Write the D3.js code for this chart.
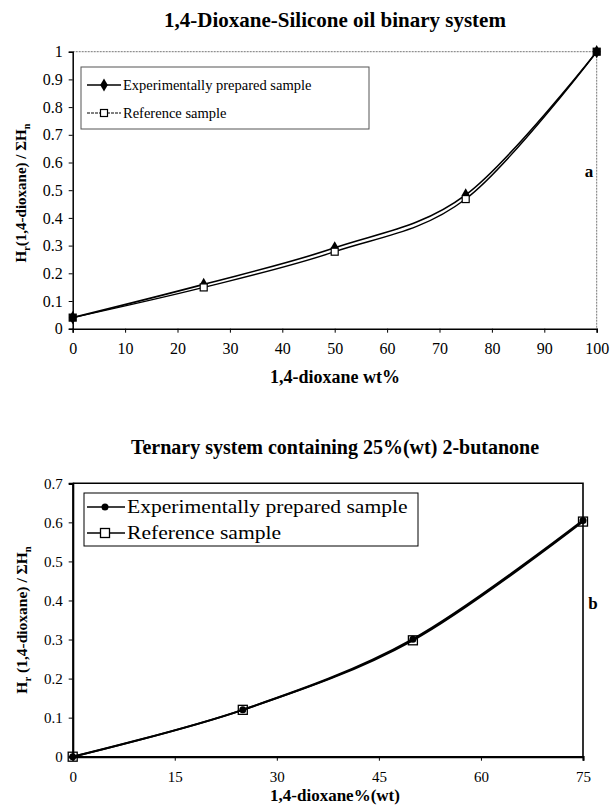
<!DOCTYPE html>
<html><head><meta charset="utf-8">
<script src="https://cdn.jsdelivr.net/npm/d3@7"></script>
<style>body{margin:0;background:#fff}svg{display:block}</style>
</head><body><svg id="c" width="612" height="806"></svg>
<script>
// Chart a data
const xA = [0, 25, 50, 75, 100];
const expA = [0.04, 0.16, 0.292, 0.483, 1.0];
const refA = [0.04, 0.149, 0.278, 0.468, 1.0];
const xTicksA = [0,10,20,30,40,50,60,70,80,90,100];
const yTicksA = [0,0.1,0.2,0.3,0.4,0.5,0.6,0.7,0.8,0.9,1];
// Chart b data
const xB = [0, 25, 50, 75];
const expB = [0, 0.12, 0.301, 0.605];
const refB = [0, 0.12, 0.298, 0.602];
const xTicksB = [0,15,30,45,60,75];
const yTicksB = [0,0.1,0.2,0.3,0.4,0.5,0.6,0.7];
const legendLabels = ["Experimentally prepared sample", "Reference sample"];

const svg = d3.select("#c");
const curve = d3.curveCardinal.tension(0);
const SERIF = "Liberation Serif";

function txt(g, x, y, s, size, bold, anchor){
  return g.append("text").attr("x",x).attr("y",y).attr("text-anchor",anchor||"start")
    .attr("font-family",SERIF).attr("font-size",size).attr("font-weight",bold?"bold":"normal").attr("fill","#000").text(s);
}

function yTitle(g, x, y, space, size){
  const t = g.append("text").attr("transform",`translate(${x},${y}) rotate(-90)`)
    .attr("text-anchor","middle").attr("font-family",SERIF).attr("font-weight","bold").attr("font-size",size);
  t.append("tspan").text("H");
  t.append("tspan").attr("dy",4).attr("font-size",size*0.68).text("r");
  t.append("tspan").attr("dy",-4).text((space?" ":"")+"(1,4-dioxane) / ΣH");
  t.append("tspan").attr("dy",4).attr("font-size",size*0.68).text("n");
}

function styleAxis(a, w, size){
  a.attr("font-family",SERIF).attr("font-size",size);
  a.select(".domain").attr("stroke","#000").attr("stroke-width",w);
  a.selectAll(".tick line").attr("stroke","#000");
  a.selectAll("text").attr("font-family",SERIF).attr("font-size",size).attr("fill","#000");
}

// ---------- Chart a ----------
{
  const x = d3.scaleLinear().domain([0,100]).range([72.7,596.7]);
  const y = d3.scaleLinear().domain([0,1]).range([328.7,51.7]);
  const g = svg.append("g");
  txt(g,335,27,"1,4-Dioxane-Silicone oil binary system",21,true,"middle");
  g.append("path").attr("d",`M${x(0)},${y(1)}H${x(100)}V${y(0)}`)
    .attr("fill","none").attr("stroke","#777").attr("stroke-width",1).attr("stroke-dasharray","2,1");
  const xa = g.append("g").attr("transform",`translate(0,${y(0)})`)
    .call(d3.axisBottom(x).tickValues(xTicksA).tickSize(4).tickFormat(d3.format("d")));
  const ya = g.append("g").attr("transform",`translate(${x(0)},0)`)
    .call(d3.axisLeft(y).tickValues(yTicksA).tickSize(4).tickFormat(d=>d));
  styleAxis(xa,1.5,16); styleAxis(ya,1.5,16);
  xa.selectAll("text").attr("dy","1.15em");
  ya.selectAll("text").attr("dx","-3");
  txt(g,335,383,"1,4-dioxane wt%",18,true,"middle");
  yTitle(g, 26, 193, false, 15);
  txt(g,589,177,"a",17,true,"middle");
  const line = d3.line().x(d=>x(d[0])).y(d=>y(d[1])).curve(curve);
  g.append("path").datum(xA.map((v,i)=>[v,refA[i]])).attr("d",line)
    .attr("fill","none").attr("stroke","#000").attr("stroke-width",1.4);
  g.append("path").datum(xA.map((v,i)=>[v,expA[i]])).attr("d",line)
    .attr("fill","none").attr("stroke","#000").attr("stroke-width",1.6);
  const dia = d3.symbol().type(d3.symbolDiamond).size(50);
  g.selectAll(".dA").data(xA.map((v,i)=>[v,expA[i]])).join("path")
    .attr("transform",d=>`translate(${x(d[0])},${y(d[1])})`).attr("d",dia).attr("fill","#000");
  g.selectAll(".sA").data(xA.map((v,i)=>[v,refA[i]])).join("rect")
    .attr("x",d=>x(d[0])-3.5).attr("y",d=>y(d[1])-3.5).attr("width",7).attr("height",7)
    .attr("fill",(d,i)=>(i===0||i===4)?"#000":"#fff").attr("stroke","#000").attr("stroke-width",1.2);
  // legend
  g.append("rect").attr("x",81).attr("y",67).attr("width",288).attr("height",62)
    .attr("fill","#fff").attr("stroke","#555").attr("stroke-width",1);
  const ly=[85,113];
  g.append("line").attr("x1",87).attr("x2",121).attr("y1",ly[0]).attr("y2",ly[0]).attr("stroke","#000").attr("stroke-width",1.6);
  g.append("path").attr("transform",`translate(104,${ly[0]})`).attr("d",dia).attr("fill","#000");
  g.append("line").attr("x1",87).attr("x2",121).attr("y1",ly[1]).attr("y2",ly[1]).attr("stroke","#000").attr("stroke-width",1).attr("stroke-dasharray","3,1");
  g.append("rect").attr("x",100.5).attr("y",ly[1]-3.5).attr("width",7).attr("height",7).attr("fill","#fff").attr("stroke","#000").attr("stroke-width",1.2);
  legendLabels.forEach((t,i)=>txt(g,123,ly[i]+5,t,14.5,false));
}

// ---------- Chart b ----------
{
  const x = d3.scaleLinear().domain([0,75]).range([72.7,583]);
  const y = d3.scaleLinear().domain([0,0.7]).range([756.7,483.3]);
  const g = svg.append("g");
  txt(g,335,454,"Ternary system containing 25%(wt) 2-butanone",20,true,"middle");
  g.append("path").attr("d",`M${x(0)},${y(0.7)}H${x(75)}V${y(0)}`)
    .attr("fill","none").attr("stroke","#000").attr("stroke-width",1.6);
  const xa = g.append("g").attr("transform",`translate(0,${y(0)})`)
    .call(d3.axisBottom(x).tickValues(xTicksB).tickSize(4).tickFormat(d3.format("d")));
  const ya = g.append("g").attr("transform",`translate(${x(0)},0)`)
    .call(d3.axisLeft(y).tickValues(yTicksB).tickSize(4).tickFormat(d=>d));
  styleAxis(xa,2.2,15); styleAxis(ya,2.2,15);
  xa.selectAll("text").attr("dy","1.2em");
  ya.selectAll("text").attr("dx","-3");
  txt(g,335,801,"1,4-dioxane%(wt)",17,true,"middle");
  yTitle(g, 27, 620, true, 15.5);
  txt(g,593,609,"b",17,true,"middle");
  const line = d3.line().x(d=>x(d[0])).y(d=>y(d[1])).curve(curve);
  g.append("path").datum(xB.map((v,i)=>[v,refB[i]])).attr("d",line)
    .attr("fill","none").attr("stroke","#000").attr("stroke-width",2);
  g.append("path").datum(xB.map((v,i)=>[v,expB[i]])).attr("d",line)
    .attr("fill","none").attr("stroke","#000").attr("stroke-width",2);
  g.selectAll(".sB").data(xB.map((v,i)=>[v,refB[i]])).join("rect")
    .attr("x",d=>x(d[0])-4.5).attr("y",d=>y(d[1])-4.5).attr("width",9).attr("height",9)
    .attr("fill","none").attr("stroke","#000").attr("stroke-width",1.3);
  g.selectAll(".cB").data(xB.map((v,i)=>[v,expB[i]])).join("circle")
    .attr("cx",d=>x(d[0])).attr("cy",d=>y(d[1])).attr("r",3.5).attr("fill","#000");
  // legend
  g.append("rect").attr("x",84).attr("y",493).attr("width",334).attr("height",53)
    .attr("fill","#fff").attr("stroke","#000").attr("stroke-width",1);
  const ly=[507,533];
  ly.forEach(v=>g.append("line").attr("x1",87).attr("x2",125).attr("y1",v).attr("y2",v).attr("stroke","#000").attr("stroke-width",1.5));
  g.append("circle").attr("cx",105).attr("cy",ly[0]).attr("r",3.5).attr("fill","#000");
  g.append("rect").attr("x",100.5).attr("y",ly[1]-4.5).attr("width",9).attr("height",9).attr("fill","#fff").attr("stroke","#000").attr("stroke-width",1.3);
  legendLabels.forEach((t,i)=>txt(g,0,0,t,18,false).attr("transform",`translate(127,${ly[i]+6}) scale(1.2,1)`));
}
</script></body></html>
